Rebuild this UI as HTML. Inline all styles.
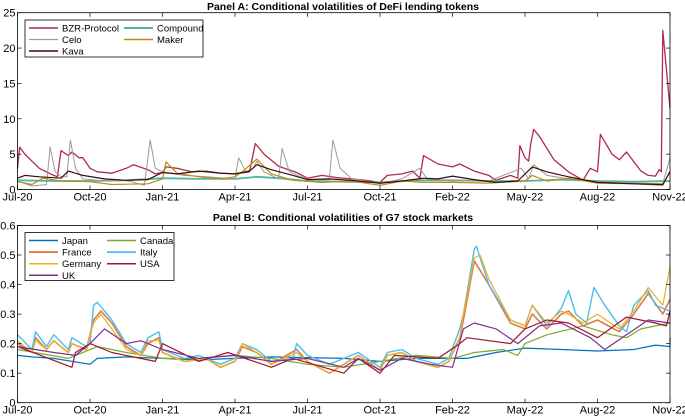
<!DOCTYPE html>
<html><head><meta charset="utf-8"><style>
body{margin:0;background:#fff;}
svg{display:block;font-family:"Liberation Sans",Arial,sans-serif;}
</style></head><body>
<svg id="chart" width="685" height="418"></svg>
<script>
const tickLabels=["Jul-20","Oct-20","Jan-21","Apr-21","Jul-21","Oct-21","Feb-22","May-22","Aug-22","Nov-22"];
const aTicks=[0,5,10,15,20,25];
const bTicks=[0,0.1,0.2,0.3,0.4,0.5,0.6];
const aNames=["BZR-Protocol","Compound","Celo","Maker","Kava"];
const aColors=["#b02a4a","#4fb5a5","#9a9a9a","#c08a10","#3a0d0d"];
const aWidths=[1.3,1.8,1.0,1.2,1.2];
const bzr=[[0,3],[0.03,6],[0.1,5],[0.3,3],[0.5,2],[0.55,1.8],[0.6,5.5],[0.7,4.8],[0.75,5.3],[0.85,4.5],[0.9,4.5],[1.0,3],[1.1,2.5],[1.3,2.3],[1.5,3],[1.6,3.5],[1.8,2.8],[1.9,2.2],[2.0,2.4],[2.05,3.2],[2.2,3],[2.4,2.5],[2.6,2.6],[2.8,2.3],[3.0,2.2],[3.2,2.5],[3.28,6.5],[3.4,5],[3.6,3.3],[3.85,2.4],[4.0,1.6],[4.2,2],[4.4,1.7],[4.6,1.5],[4.8,1.3],[5.0,1.0],[5.1,2],[5.3,2.2],[5.45,2.6],[5.55,1.6],[5.6,4.8],[5.8,3.6],[6.0,3.2],[6.1,3.6],[6.3,2.6],[6.5,2],[6.6,1.3],[6.8,2],[6.9,1.6],[6.93,6.2],[7.0,4.5],[7.05,4],[7.08,6.5],[7.12,8.5],[7.2,7.5],[7.4,4.2],[7.6,2.5],[7.8,1.3],[7.9,3],[8.0,2.5],[8.04,7.8],[8.2,5],[8.3,4.2],[8.4,5.3],[8.6,2.6],[8.7,2],[8.8,1.9],[8.85,2.8],[8.88,2.5],[8.9,22.5],[8.95,17],[9.0,11.5]];
const compound=[[0,1.3],[0.5,1.2],[1.0,1.2],[1.5,1.3],[2.0,1.6],[2.5,1.5],[3.0,1.5],[3.3,1.8],[3.6,1.6],[4.0,1.2],[4.5,1.1],[5.0,1.0],[5.5,1.3],[6.0,1.3],[6.5,1.2],[7.0,1.2],[7.5,1.4],[8.0,1.2],[8.5,1.1],[9.0,1.2]];
const celo=[[0,1.2],[0.2,0.5],[0.4,0.7],[0.45,6],[0.52,2.5],[0.6,1.8],[0.68,1.8],[0.73,7],[0.8,3],[0.9,1.5],[1.2,1.2],[1.5,1.3],[1.75,0.6],[1.83,7],[1.9,3],[2.0,2.5],[2.3,2],[2.6,1.8],[3.0,1.5],[3.05,4.5],[3.15,2.5],[3.25,3],[3.3,4],[3.4,2.5],[3.6,1.5],[3.65,5.8],[3.75,2.5],[4.0,1.4],[4.3,1.4],[4.35,7],[4.45,3],[4.6,1.6],[5.0,0.8],[5.3,1.5],[5.55,3],[5.65,1.5],[6.0,1.2],[6.5,1.2],[6.95,3],[7.05,1.5],[7.12,3.5],[7.3,2],[7.6,1.5],[8.0,1.1],[8.5,0.9],[8.9,0.8],[9.0,4.5]];
const maker=[[0,1.1],[0.2,0.7],[0.35,1.6],[0.6,1.2],[1.0,1.1],[1.3,0.7],[1.8,0.8],[2.0,1.5],[2.05,3.9],[2.2,2.3],[2.5,1.8],[2.8,1.5],[3.0,1.8],[3.1,2.5],[3.3,4.3],[3.5,2.2],[3.8,1.3],[4.2,1.0],[4.6,1.2],[5.0,0.6],[5.3,1.2],[5.6,1.0],[6.0,1.0],[6.5,0.9],[7.0,1.2],[7.1,2],[7.3,1.2],[7.6,1.6],[8.0,0.9],[8.5,0.8],[8.9,0.6],[9.0,2.6]];
const kava=[[0,1.6],[0.1,2],[0.3,1.8],[0.6,1.6],[0.7,2.6],[0.9,2],[1.2,1.5],[1.5,1.3],[1.8,1.4],[2.0,2.4],[2.2,2.2],[2.5,2.6],[2.8,2.3],[3.0,2.2],[3.2,2.6],[3.3,3.5],[3.5,2.8],[3.8,2],[4.0,1.4],[4.3,1.5],[4.6,1.3],[5.0,0.9],[5.3,1.2],[5.6,1.6],[5.8,1.5],[6.0,1.9],[6.3,1.4],[6.6,1.0],[6.9,1.2],[7.1,3.2],[7.3,2.5],[7.6,1.8],[8.0,1.0],[8.5,0.8],[8.9,0.7],[9.0,2.5]];
const aData=[bzr,compound,celo,maker,kava];
const bNames=["Japan","Canada","France","Italy","Germany","USA","UK"];
const bColors=["#0072bd","#77ac30","#e07a45","#4dbeee","#edb120","#a2142f","#7e2f8e"];
const bWidths=[1.2,1.2,1.6,1.4,1.2,1.2,1.2];
const japan=[[0,0.16],[0.2,0.155],[0.5,0.15],[1.0,0.13],[1.1,0.15],[1.5,0.155],[2.0,0.15],[2.5,0.145],[3.0,0.15],[3.5,0.155],[4.5,0.15],[5.0,0.14],[5.5,0.15],[6.2,0.15],[6.6,0.17],[7.0,0.185],[7.5,0.18],[8.0,0.175],[8.5,0.18],[8.8,0.195],[9.0,0.19],[9.0,0.22]];
const canada=[[0,0.18],[0.7,0.15],[1.1,0.19],[1.5,0.17],[2.0,0.15],[2.5,0.15],[3.0,0.16],[3.5,0.15],[4.0,0.13],[4.5,0.12],[5.0,0.14],[5.5,0.16],[6.0,0.15],[6.3,0.17],[6.7,0.18],[6.9,0.16],[7.0,0.2],[7.3,0.23],[7.8,0.26],[8.2,0.23],[8.4,0.22],[8.6,0.25],[9.0,0.27]];
const france=[[0,0.2],[0.2,0.17],[0.25,0.22],[0.4,0.18],[0.5,0.21],[0.7,0.17],[0.75,0.2],[0.95,0.18],[1.05,0.28],[1.15,0.31],[1.3,0.27],[1.5,0.19],[1.7,0.16],[1.8,0.2],[1.95,0.22],[2.0,0.17],[2.3,0.14],[2.6,0.15],[2.8,0.12],[3.0,0.14],[3.1,0.19],[3.3,0.17],[3.5,0.13],[3.85,0.18],[4.0,0.14],[4.3,0.1],[4.5,0.13],[4.7,0.16],[5.0,0.11],[5.1,0.16],[5.3,0.17],[5.5,0.14],[5.8,0.12],[5.95,0.14],[6.1,0.22],[6.15,0.28],[6.3,0.48],[6.5,0.4],[6.8,0.27],[7.0,0.25],[7.1,0.3],[7.3,0.25],[7.5,0.3],[7.6,0.31],[7.8,0.26],[8.0,0.28],[8.3,0.24],[8.5,0.3],[8.7,0.37],[8.9,0.3],[9.0,0.35]];
const italy=[[0,0.23],[0.2,0.18],[0.25,0.24],[0.4,0.19],[0.5,0.23],[0.7,0.18],[0.75,0.22],[0.95,0.19],[1.0,0.2],[1.05,0.33],[1.1,0.34],[1.3,0.28],[1.5,0.2],[1.7,0.17],[1.8,0.22],[1.95,0.24],[2.0,0.18],[2.3,0.15],[2.5,0.16],[2.8,0.13],[3.0,0.15],[3.1,0.2],[3.3,0.18],[3.5,0.14],[3.8,0.15],[3.85,0.2],[4.0,0.16],[4.3,0.13],[4.5,0.15],[4.7,0.17],[5.0,0.12],[5.1,0.17],[5.3,0.18],[5.5,0.15],[5.8,0.13],[5.95,0.15],[6.1,0.25],[6.15,0.3],[6.3,0.52],[6.33,0.53],[6.5,0.4],[6.8,0.28],[7.0,0.26],[7.1,0.33],[7.3,0.26],[7.5,0.32],[7.6,0.38],[7.7,0.3],[7.85,0.27],[7.95,0.39],[8.1,0.33],[8.3,0.26],[8.4,0.24],[8.5,0.33],[8.7,0.38],[8.8,0.33],[9.0,0.31]];
const germany=[[0,0.21],[0.2,0.17],[0.25,0.21],[0.4,0.18],[0.5,0.21],[0.7,0.17],[0.75,0.2],[0.95,0.18],[1.05,0.27],[1.15,0.3],[1.3,0.25],[1.5,0.18],[1.7,0.16],[1.8,0.21],[1.95,0.21],[2.0,0.17],[2.3,0.14],[2.6,0.15],[2.8,0.12],[3.0,0.14],[3.1,0.2],[3.3,0.17],[3.5,0.13],[3.85,0.17],[4.0,0.14],[4.3,0.1],[4.5,0.13],[4.7,0.16],[5.0,0.11],[5.1,0.16],[5.3,0.17],[5.5,0.14],[5.8,0.12],[5.95,0.14],[6.1,0.22],[6.15,0.3],[6.3,0.49],[6.38,0.5],[6.5,0.42],[6.8,0.28],[7.0,0.26],[7.1,0.33],[7.3,0.27],[7.5,0.31],[7.6,0.3],[7.8,0.27],[8.0,0.3],[8.3,0.25],[8.5,0.31],[8.7,0.39],[8.9,0.33],[9.0,0.46]];
const usa=[[0,0.19],[0.75,0.12],[0.8,0.17],[1.0,0.2],[1.3,0.17],[1.9,0.14],[2.0,0.2],[2.5,0.14],[2.9,0.17],[3.5,0.12],[3.8,0.15],[4.5,0.1],[4.7,0.15],[5.0,0.1],[5.2,0.16],[5.8,0.15],[6.1,0.2],[6.2,0.22],[6.5,0.21],[6.8,0.2],[7.0,0.25],[7.3,0.28],[7.6,0.27],[8.0,0.22],[8.4,0.29],[8.8,0.27],[8.95,0.26],[9.0,0.31]];
const uk=[[0,0.19],[0.5,0.17],[0.8,0.16],[1.0,0.2],[1.2,0.25],[1.5,0.2],[1.7,0.21],[2.0,0.18],[2.5,0.15],[3.0,0.16],[3.5,0.14],[4.0,0.15],[4.5,0.12],[4.7,0.15],[5.0,0.11],[5.3,0.15],[5.7,0.13],[6.0,0.12],[6.15,0.25],[6.3,0.27],[6.6,0.25],[6.9,0.2],[7.2,0.26],[7.5,0.27],[7.9,0.22],[8.1,0.18],[8.4,0.23],[8.7,0.28],[9.0,0.27]];
const bData=[japan,canada,france,italy,germany,usa,uk];

const NS="http://www.w3.org/2000/svg";
const svg=document.getElementById('chart');
function mk(tag,attrs,parent){const e=document.createElementNS(NS,tag);for(const k in attrs)e.setAttribute(k,attrs[k]);(parent||svg).appendChild(e);return e;}
const L=17.5,R=670;
const xs=t=>L+(R-L)*t/9;
function panel(cfg){
  const g=mk('g',{});
  
  
  const ys=v=>cfg.bot-(cfg.bot-cfg.top)*v/cfg.max;
  const title=mk('text',{x:343,y:cfg.titleY,'text-anchor':'middle','font-size':10.5,'font-weight':'bold',fill:'#000'},g);
  title.textContent=cfg.title;
  
  
  const lines=mk('g',{},g);
  
  
  cfg.data.forEach((d,i)=>{
    const p=mk('path',{d:d.map((q,j)=>(j?'L':'M')+xs(q[0]).toFixed(1)+' '+ys(q[1]).toFixed(1)).join(''),fill:'none',stroke:cfg.colors[i],'stroke-width':cfg.widths[i],'stroke-linejoin':'round'},lines);
    
    
  });
  const box=mk('rect',{x:L,y:cfg.top,width:R-L,height:cfg.bot-cfg.top,fill:'none',stroke:'#000','stroke-width':0.8},g);
  
  
  cfg.yt.forEach(v=>{
    const y=ys(v);
    mk('line',{x1:L,x2:L+4,y1:y,y2:y,stroke:'#000','stroke-width':0.7},g);
    mk('line',{x1:R,x2:R-4,y1:y,y2:y,stroke:'#000','stroke-width':0.7},g);
    const t=mk('text',{x:L-2,y:y+4,'text-anchor':'end','font-size':11,fill:'#000'},g);
    t.textContent=String(v);
    
    
  });
  tickLabels.forEach((s,i)=>{
    const x=xs(i);
    mk('line',{x1:x,x2:x,y1:cfg.bot,y2:cfg.bot-4,stroke:'#000','stroke-width':0.7},g);
    mk('line',{x1:x,x2:x,y1:cfg.top,y2:cfg.top+4,stroke:'#000','stroke-width':0.7},g);
    const t=mk('text',{x:x,y:cfg.bot+11,'text-anchor':'middle','font-size':11,fill:'#000'},g);
    t.textContent=s;
    
    
  });
  const lg=mk('g',{},g);
  
  
  mk('rect',{x:cfg.lx,y:cfg.ly,width:cfg.lw,height:cfg.lh,fill:'#fff',stroke:'#000','stroke-width':0.8},lg);
  cfg.names.forEach((n,i)=>{
    const col=i%2,row=Math.floor(i/2);
    const x0=cfg.lx+4+col*cfg.colW, y=cfg.ly+8+row*cfg.rowH;
    mk('line',{x1:x0,x2:x0+29,y1:y,y2:y,stroke:cfg.colors[i],'stroke-width':cfg.widths[i]+0.3},lg);
    const t=mk('text',{x:x0+33,y:y+3.5,'font-size':9.5,fill:'#000'},lg);
    t.textContent=n;
    
    
  });
}
panel({name:'panel-a',title:'Panel A: Conditional volatilities of DeFi lending tokens',titleY:10,top:12.7,bot:189.5,max:25,yt:aTicks,data:aData,names:aNames,colors:aColors,widths:aWidths,lx:25,ly:20,lw:178,lh:37,colW:95,rowH:11.5});
panel({name:'panel-b',title:'Panel B: Conditional volatilities of G7 stock markets',titleY:221,top:225.5,bot:402.7,max:0.6,yt:bTicks,data:bData,names:bNames,colors:bColors,widths:bWidths,lx:25,ly:232.5,lw:149,lh:48,colW:78,rowH:11.6});
</script>
</body></html>
